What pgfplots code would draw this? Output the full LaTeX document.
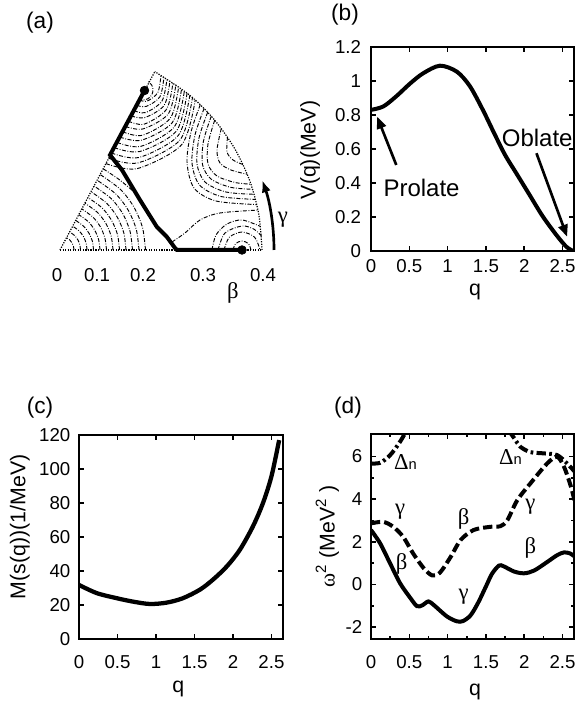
\documentclass[border=0pt]{standalone}
\usepackage{fontspec}
\setmainfont{Liberation Sans}
\newfontfamily\greekfont{Liberation Serif}
\usepackage{pgfplots}
\pgfplotsset{compat=1.18}
\usetikzlibrary{arrows.meta}

\newcommand{\gk}[1]{{\greekfont\fontsize{17}{19}\selectfont #1}}

\pgfplotsset{
  panel/.style={
    scale only axis, xmin=0, xmax=2.65,
    axis line style={line width=1.8pt},
    every tick/.style={black, line width=1.2pt},
    major tick length=4pt, minor tick length=2.5pt,
    tick label style={font=\fontsize{14}{16}\selectfont},
    label style={font=\fontsize{16}{18}\selectfont},
    /pgf/number format/assume math mode=true,
    xtick={0,0.5,1,1.5,2,2.5},
  },
  contour/.style={black, line width=0.7pt, smooth,
    dash pattern=on 3pt off 1.2pt on 0.6pt off 1.2pt},
  rim/.style={black, line width=0.9pt, densely dotted},
}

\begin{document}
\begin{tikzpicture}
\useasboundingbox (0,0) rectangle (432pt,529.5pt);

% ---------------- (a) potential energy surface in the beta-gamma plane
\begin{axis}[
    at={(41.25pt,342pt)}, anchor=south west,
    scale only axis, width=159pt, height=135pt,
    xmin=-0.01, xmax=0.414, ymin=0, ymax=0.36,
    axis line style={draw=none}, ytick=\empty,
    xtick={-0.006,0.074,0.166,0.286,0.406},
    xticklabels={0,0.1,0.2,0.3,0.4},
    major tick length=0pt,
    tick label style={font=\fontsize{14}{16}\selectfont},
    xticklabel style={yshift=-10pt},
    clip=false,
]
% sector boundary
\addplot[rim] coordinates {(0,0) (0.404,0)};
\addplot[rim] coordinates {(0,0) (0.1896,0.3568)};
\addplot[rim, smooth] coordinates {(0.404,0) (0.3978,0.0702) (0.3796,0.1382)
    (0.3498,0.202) (0.3094,0.2596) (0.2596,0.3094) (0.1896,0.3568)};
% contours round the spherical point
\addplot[contour] coordinates {(0.028,0) (0.027,0.0072) (0.0242,0.014) (0.0198,0.0198) (0.0132,0.0248)};
\addplot[contour] coordinates {(0.041,0) (0.0396,0.0106) (0.0356,0.0205) (0.029,0.029) (0.0192,0.0362)};
\addplot[contour] coordinates {(0.054,0) (0.0522,0.014) (0.0468,0.027) (0.0382,0.0382) (0.0254,0.0476)};
\addplot[contour] coordinates {(0.067,0) (0.0648,0.0174) (0.058,0.0335) (0.0474,0.0474) (0.0314,0.0592)};
\addplot[contour] coordinates {(0.08,0) (0.0772,0.0208) (0.0692,0.04) (0.0566,0.0566) (0.0376,0.0706)};
\addplot[contour] coordinates {(0.093,0) (0.0898,0.024) (0.0806,0.0465) (0.0658,0.0658) (0.0436,0.0822)};
\addplot[contour] coordinates {(0.106,0) (0.1024,0.0274) (0.0918,0.053) (0.075,0.075) (0.0498,0.0936)};
\addplot[contour] coordinates {(0.119,0) (0.115,0.0308) (0.103,0.0595) (0.0842,0.0842) (0.0558,0.105)};
\addplot[contour] coordinates {(0.132,0) (0.1276,0.0342) (0.1144,0.066) (0.0934,0.0934) (0.062,0.1166)};
\addplot[contour] coordinates {(0.145,0) (0.14,0.0376) (0.1256,0.0725) (0.1026,0.1026) (0.068,0.128)};
\addplot[contour] coordinates {(0.158,0) (0.1526,0.041) (0.1368,0.079) (0.1118,0.1118) (0.0742,0.1396)};
\addplot[contour] coordinates {(0.171,0) (0.1652,0.0442) (0.148,0.0855) (0.121,0.121) (0.0802,0.151)};
\addplot[contour] coordinates {(0.0864,0.1624) (0.1182,0.141) (0.146,0.118)};
% contours round the oblate minimum
\addplot[contour] coordinates {(0.1566,0.3024) (0.166,0.3) (0.176,0.3026) (0.1834,0.31) (0.186,0.32) (0.1834,0.33) (0.1754,0.3376)};
\addplot[contour] coordinates {(0.1592,0.2998) (0.1742,0.2978) (0.1956,0.3148) (0.202,0.3498)};
\addplot[contour] coordinates {(0.1536,0.2892) (0.1726,0.2872) (0.1998,0.3064) (0.208,0.3462)};
\addplot[contour] coordinates {(0.1478,0.2788) (0.171,0.2748) (0.204,0.298) (0.214,0.3426)};
\addplot[contour] coordinates {(0.1422,0.2682) (0.1694,0.2648) (0.2084,0.2894) (0.22,0.3388)};
\addplot[contour] coordinates {(0.1366,0.2576) (0.168,0.2516) (0.2126,0.2808) (0.226,0.335)};
\addplot[contour] coordinates {(0.131,0.247) (0.1662,0.2422) (0.2166,0.2722) (0.2318,0.331)};
\addplot[contour] coordinates {(0.1254,0.2364) (0.1646,0.2294) (0.2206,0.2636) (0.2374,0.3268)};
\addplot[contour] coordinates {(0.1198,0.2258) (0.163,0.2196) (0.2246,0.2548) (0.2432,0.3226)};
\addplot[contour] coordinates {(0.1142,0.2152) (0.1614,0.2072) (0.2286,0.2462) (0.2488,0.3184)};
\addplot[contour] coordinates {(0.1086,0.2046) (0.1596,0.197) (0.2324,0.2374) (0.2542,0.314)};
\addplot[contour] coordinates {(0.103,0.194) (0.1578,0.185) (0.2362,0.2286) (0.2596,0.3094)};
\addplot[contour] coordinates {(0.0974,0.1834) (0.156,0.1742) (0.2398,0.2198) (0.265,0.305)};
\addplot[contour] coordinates {(0.0918,0.1728) (0.1544,0.1628) (0.2436,0.211) (0.2704,0.3002)};
% contours round the triaxial ridge
\addplot[contour] coordinates {(0.2806,0.2906) (0.262,0.236) (0.254,0.176) (0.268,0.124) (0.312,0.098) (0.3936,0.0908)};
\addplot[contour] coordinates {(0.2882,0.2832) (0.27,0.23) (0.264,0.174) (0.279,0.13) (0.322,0.107) (0.3912,0.1012)};
\addplot[contour] coordinates {(0.2954,0.2756) (0.278,0.224) (0.274,0.172) (0.29,0.136) (0.332,0.116) (0.3884,0.1114)};
\addplot[contour] coordinates {(0.3026,0.2678) (0.287,0.218) (0.285,0.171) (0.302,0.142) (0.341,0.1254) (0.3854,0.1214)};
\addplot[contour] coordinates {(0.3094,0.2596) (0.296,0.212) (0.296,0.172) (0.314,0.148) (0.35,0.135) (0.382,0.1316)};
\addplot[contour] coordinates {(0.3226,0.2432) (0.314,0.2) (0.32,0.174) (0.342,0.16) (0.3746,0.1514)};
\addplot[contour] coordinates {(0.335,0.226) (0.334,0.196) (0.346,0.18) (0.3662,0.1708)};
% saddle and prolate minimum
\addplot[contour] coordinates {(0.224,0.016) (0.25,0.034) (0.28,0.06) (0.32,0.074) (0.396,0.0798)};
\addplot[contour] coordinates {(0.346,0) (0.3512,0.0128) (0.364,0.018) (0.3768,0.0128) (0.382,0)};
\addplot[contour] coordinates {(0.328,0) (0.3386,0.0254) (0.364,0.036) (0.3894,0.0254) (0.4,0)};
\addplot[contour] coordinates {(0.316,0) (0.33,0.034) (0.364,0.048) (0.388,0.0416) (0.403,0.028)};
\addplot[contour] coordinates {(0.304,0) (0.312,0.03) (0.334,0.052) (0.364,0.06) (0.4012,0.047)};
% collective path
\addplot[black, line width=3pt] coordinates {(0.169,0.319) (0.1,0.19) (0.124,0.16)
    (0.16,0.1) (0.1934,0.0466) (0.2134,0.0266) (0.23,0.004) (0.234,0) (0.364,0)};
\addplot[black, only marks, mark=*, mark size=3.3pt] coordinates {(0.169,0.319) (0.364,0)};
\end{axis}
\node at (30pt,512.25pt) {\fontsize{17}{20}\selectfont (a)};
\node at (174.75pt,309.75pt) {\gk{β}};
\node at (212.25pt,364.5pt) {\gk{γ}};
\draw[line width=2pt, -{Latex[length=9pt,width=7pt]}] (205.5pt,342pt)
    arc[start angle=0, end angle=19, radius=160.5pt];

% ---------------- (b) collective potential
\begin{axis}[panel,
    at={(278.25pt,341.25pt)}, anchor=south west,
    width=152.25pt, height=153pt,
    ymin=0, ymax=1.2, ytick={0,0.2,0.4,0.6,0.8,1,1.2},
    xticklabel style={yshift=-3pt}, yticklabel style={xshift=-4pt},
    xlabel={q}, ylabel={V(q)(MeV)},
    xlabel style={at={(axis description cs:0.512,-0.2)}, anchor=center},
    ylabel style={at={(axis description cs:-0.30,0.495)}, anchor=center},
]
\addplot[black, line width=3pt, smooth] coordinates {
    (0,0.83) (0.16,0.85) (0.33,0.91) (0.51,0.985) (0.68,1.045) (0.9,1.09)
    (1.12,1.055) (1.29,0.97) (1.46,0.83) (1.6,0.70) (1.75,0.565) (1.9,0.455)
    (2.07,0.33) (2.24,0.205) (2.42,0.094) (2.55,0.025) (2.64,0)};
\draw[line width=2pt, -{Triangle[length=9pt,width=7pt]}] (axis cs:0.33,0.506) -- (axis cs:0.08,0.79);
\draw[line width=2pt, -{Triangle[length=9pt,width=7pt]}] (axis cs:2.16,0.575) -- (axis cs:2.56,0.084);
\node at (axis cs:0.66,0.37) {\fontsize{18}{20}\selectfont Prolate};
\node at (axis cs:2.17,0.665) {\fontsize{18}{20}\selectfont Oblate};
\end{axis}
\node at (258.75pt,518.25pt) {\fontsize{17}{20}\selectfont (b)};

% ---------------- (c) collective mass
\begin{axis}[panel,
    at={(59.25pt,50.25pt)}, anchor=south west,
    width=153pt, height=153pt,
    ymin=0, ymax=120, ytick={0,20,40,60,80,100,120},
    xticklabel style={yshift=-9pt}, yticklabel style={xshift=-3pt},
    xlabel={q}, ylabel={M(s(q))(1/MeV)},
    xlabel style={at={(axis description cs:0.487,-0.245)}, anchor=center},
    ylabel style={at={(axis description cs:-0.29,0.55)}, anchor=center},
]
\addplot[black, line width=3.2pt, smooth] coordinates {
    (0,31.8) (0.23,27) (0.49,24) (0.7,22) (0.92,20.6) (1.14,21.4) (1.35,24)
    (1.57,29) (1.74,34.9) (1.92,42.7) (2.09,52.5) (2.26,66.3) (2.39,80)
    (2.5,95.7) (2.6,117)};
\end{axis}
\node at (30pt,223.5pt) {\fontsize{17}{20}\selectfont (c)};

% ---------------- (d) local normal-mode frequencies
\begin{axis}[panel,
    at={(278.25pt,50.25pt)}, anchor=south west,
    width=152.25pt, height=153.75pt,
    ymin=-2.56, ymax=7.05, ytick={-2,0,2,4,6}, yticklabels={-2,0,2,4,6},
    minor x tick num=1, minor y tick num=1,
    xticklabel style={yshift=-9pt}, yticklabel style={xshift=-3pt},
    xlabel={q}, ylabel={{\greekfont ω}\textsuperscript{2} (MeV\textsuperscript{2} )},
    xlabel style={at={(axis description cs:0.512,-0.257)}, anchor=center},
    ylabel style={at={(axis description cs:-0.215,0.5)}, anchor=center},
]
\addplot[black, line width=3pt, smooth] coordinates {
    (0,2.55) (0.12,1.92) (0.25,0.98) (0.38,0.05) (0.51,-0.62) (0.6,-1.02)
    (0.67,-0.98) (0.75,-0.8) (0.83,-1.0) (0.99,-1.5) (1.12,-1.73) (1.2,-1.72)
    (1.3,-1.45) (1.4,-0.85) (1.5,-0.1) (1.58,0.5) (1.67,0.88) (1.73,0.85)
    (1.87,0.6) (2,0.52) (2.13,0.65) (2.3,1.05) (2.43,1.37) (2.52,1.5)
    (2.6,1.45) (2.66,1.3)};
\addplot[black, line width=3pt, smooth, dash pattern=on 7pt off 3pt] coordinates {
    (0,2.86) (0.16,2.93) (0.29,2.7) (0.42,2.23) (0.55,1.45) (0.69,0.75)
    (0.8,0.42) (0.9,0.55) (1.04,1.29) (1.17,2.08) (1.34,2.55) (1.56,2.7)
    (1.69,2.73) (1.78,3.01) (1.91,3.95) (2.08,4.73) (2.3,5.67) (2.43,5.98)
    (2.52,5.51) (2.61,4.58) (2.66,3.87)};
\addplot[black, line width=3pt, smooth, dash pattern=on 7pt off 2.5pt on 2pt off 2.5pt] coordinates {
    (0,5.67) (0.12,5.7) (0.25,6.06) (0.38,6.69) (0.47,7.25)};
\addplot[black, line width=3pt, smooth, dash pattern=on 7pt off 2.5pt on 2pt off 2.5pt] coordinates {
    (1.8,7.2) (1.88,6.8) (1.95,6.45) (2.08,6.2) (2.26,6.14) (2.43,6.06)
    (2.56,5.67) (2.66,5.28)};
\node at (axis cs:0.45,5.75) {\gk{Δ}{\fontsize{11}{12}\selectfont n}};
\node at (axis cs:1.82,5.98) {\gk{Δ}{\fontsize{11}{12}\selectfont n}};
\node at (axis cs:0.38,3.4) {\gk{γ}};
\node at (axis cs:1.21,3.09) {\gk{β}};
\node at (axis cs:2.08,3.64) {\gk{γ}};
\node at (axis cs:0.4,0.98) {\gk{β}};
\node at (axis cs:1.21,-0.58) {\gk{γ}};
\node at (axis cs:2.08,1.69) {\gk{β}};
\end{axis}
\node at (261pt,223.5pt) {\fontsize{17}{20}\selectfont (d)};
\end{tikzpicture}
\end{document}
